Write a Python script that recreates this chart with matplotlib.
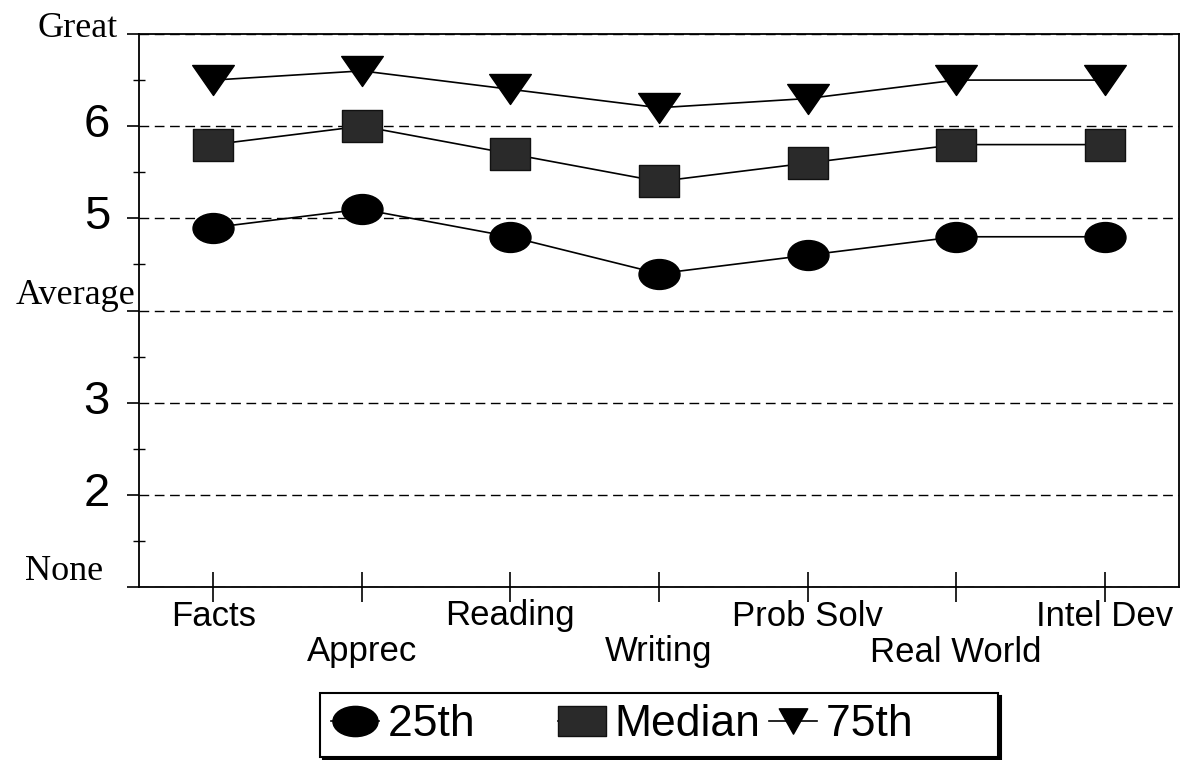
import numpy as np
import matplotlib
matplotlib.use('Agg')
import matplotlib.pyplot as plt
from matplotlib.path import Path
from matplotlib.lines import Line2D
from matplotlib.font_manager import FontProperties
from matplotlib.transforms import offset_copy, ScaledTranslation

# ---- data ----
categories = ['Facts', 'Apprec', 'Reading', 'Writing', 'Prob Solv', 'Real World', 'Intel Dev']
p25 = [4.9, 5.1, 4.8, 4.4, 4.6, 4.8, 4.8]
median = [5.8, 6.0, 5.7, 5.4, 5.6, 5.8, 5.8]
p75 = [6.5, 6.6, 6.4, 6.2, 6.3, 6.5, 6.5]
series_names = ['25th', 'Median', '75th']
ytick_values = [1, 2, 3, 4, 5, 6, 7]
ytick_labels = ['None', '2', '3', 'Average', '5', '6', 'Great']

SANS = 'Liberation Sans'
SERIF = 'Liberation Serif'

# ---- marker shapes (wider than tall) ----
def ellipse_path(ry):
    c = Path.unit_circle()
    return Path(c.vertices * np.array([1.0, ry]), c.codes)

def rect_path(ry):
    v = [(-1, -ry), (1, -ry), (1, ry), (-1, ry), (-1, -ry)]
    return Path(v, [Path.MOVETO, Path.LINETO, Path.LINETO, Path.LINETO, Path.CLOSEPOLY])

def tri_path(ry):
    v = [(-1, ry), (1, ry), (0, -ry), (-1, ry)]
    return Path(v, [Path.MOVETO, Path.LINETO, Path.LINETO, Path.CLOSEPOLY])

fig = plt.figure(figsize=(11.81, 7.60), dpi=100)
ax = fig.add_axes([139 / 1181, 1 - 587 / 760, 1040 / 1181, 553 / 760])

x = np.arange(len(categories))
ax.set_xlim(-0.5, len(categories) - 0.5)
ax.set_ylim(min(ytick_values), max(ytick_values))

sq_color = '#2a2a2a'
ax.plot(x, p25, color='k', lw=1.2, marker=ellipse_path(0.73), ms=29.5,
        mfc='k', mec='k', zorder=3)
ax.plot(x, median, color='k', lw=1.2, marker=rect_path(0.76), ms=29.5,
        mfc=sq_color, mec='#111111', mew=1, zorder=3)
ax.plot(x, p75, color='k', lw=1.2, marker=tri_path(0.72), ms=30,
        mfc='k', mec='k', zorder=3)

# grid
ax.set_yticks(ytick_values)
ax.set_yticks([v + 0.5 for v in ytick_values[:-1]], minor=True)
ax.grid(axis='y', which='major', linestyle=(0, (7, 4)), color='k', lw=1.0)
ax.set_axisbelow(True)

for s in ax.spines.values():
    s.set_linewidth(1.3)
    s.set_color('k')

ax.tick_params(axis='y', which='major', direction='out', length=9, width=1.2,
               labelleft=False)
ax.tick_params(axis='y', which='minor', direction='inout', length=8, width=1.0)

# y labels (custom positions / fonts)
ylab_style = {
    'None': (SERIF, 26, -36, 7),
    'Average': (SERIF, 26, -4, 7),
    'Great': (SERIF, 26, -21, -3),
}
for v, lab in zip(ytick_values, ytick_labels):
    fam, size, dx, dy = ylab_style.get(lab, (SANS, 34, -29, -11))
    tr = offset_copy(ax.get_yaxis_transform(), fig=fig, x=dx, y=dy, units='dots')
    ax.text(0, v, lab, transform=tr, ha='right', va='baseline',
            fontfamily=fam, fontsize=size, color='k')

# x ticks, staggered labels
ax.set_xticks(x, labels=categories)
ax.tick_params(axis='x', direction='inout', length=21, width=1.2, pad=-1.5)
for i, lab in enumerate(ax.get_xticklabels()):
    lab.set_fontfamily(SANS)
    lab.set_fontsize(25)
    if i % 2 == 1:
        lab.set_transform(lab.get_transform() +
                          ScaledTranslation(0, -36 / 100, fig.dpi_scale_trans))

# legend
handles = [
    Line2D([], [], color='k', lw=1.2, marker=ellipse_path(0.67), ms=32.5, mfc='k', mec='k'),
    Line2D([], [], color='k', lw=1.2, marker=rect_path(0.64), ms=34, mfc=sq_color, mec='#111111'),
    Line2D([], [], color='k', lw=1.2, marker=tri_path(0.89), ms=20.5, mfc='k', mec='k'),
]
labels = [series_names[0] + '      ', series_names[1], series_names[2] + '      ']
leg = fig.legend(handles, labels, loc='center',
                 bbox_to_anchor=(659 / 1181, 1 - 725 / 760),
                 bbox_transform=fig.transFigure, ncol=3,
                 prop=FontProperties(family=SANS, size=32),
                 frameon=True, fancybox=False, shadow={'color': 'k', 'alpha': 1},
                 borderpad=0.25, handlelength=1.08, handletextpad=0.2,
                 columnspacing=0.2, edgecolor='k', framealpha=1)
leg.get_frame().set_linewidth(1.5)

fig.savefig('out.png', dpi=100)
